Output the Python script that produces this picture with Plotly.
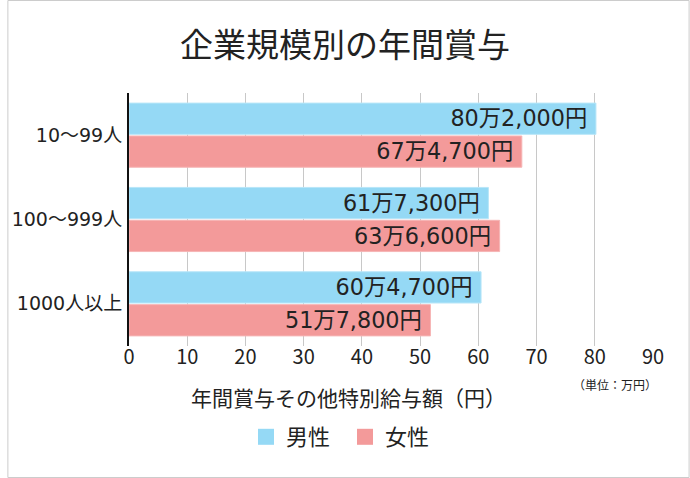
import plotly.graph_objects as go

categories = ["10〜99人", "100〜999人", "1000人以上"]
male_values = [80.2, 61.73, 60.47]
female_values = [67.47, 63.66, 51.78]
male_labels = ["80万2,000円", "61万7,300円", "60万4,700円"]
female_labels = ["67万4,700円", "63万6,600円", "51万7,800円"]
series_names = ["男性", "女性"]
x_ticks = [0, 10, 20, 30, 40, 50, 60, 70, 80, 90]

FONT = "Noto Sans CJK JP"
WIDE = "DejaVu Sans, Noto Sans CJK JP"
MALE_C, FEMALE_C = "#95d9f5", "#f39a9a"
W, H = 690, 478
L, R, T, B = 123, 37, 93, 132

fig = go.Figure()
fig.add_trace(go.Bar(
    y=categories, x=male_values, orientation="h", name=series_names[0],
    marker=dict(color=MALE_C, line=dict(color="#b8e6f8", width=1)),
    text=male_labels, texttemplate="%{text}\u2005",
    textposition="inside", insidetextanchor="end",
    textfont=dict(family=WIDE, size=23, color="#222222"),
    hoverinfo="skip", showlegend=False,
))
fig.add_trace(go.Bar(
    y=categories, x=female_values, orientation="h", name=series_names[1],
    marker=dict(color=FEMALE_C, line=dict(color="#f6b5b5", width=1)),
    text=female_labels, texttemplate="%{text}\u2005",
    textposition="inside", insidetextanchor="end",
    textfont=dict(family=WIDE, size=23, color="#222222"),
    hoverinfo="skip", showlegend=False,
))
# legend entries (square markers)
for nm, col in zip(series_names, [MALE_C, FEMALE_C]):
    fig.add_trace(go.Scatter(
        x=[None], y=[None], mode="markers", name=nm,
        marker=dict(symbol="square", size=20, color=col),
        showlegend=True, hoverinfo="skip",
    ))

pw = W - L - R
ph = H - T - B

fig.update_layout(
    width=W, height=H,
    margin=dict(l=L, r=R, t=T, b=B),
    paper_bgcolor="white", plot_bgcolor="white",
    barmode="group", bargap=0.22, bargroupgap=0.05,
    font=dict(family=FONT, color="#222222"),
    title=dict(text="企業規模別の年間賞与", x=0.5, xref="container", xanchor="center",
               y=1 - 45 / H, yref="container", yanchor="middle",
               font=dict(family=FONT, size=33, color="#222222")),
    showlegend=True,
    legend=dict(orientation="h", xref="container", yref="container",
                x=246 / W, xanchor="left", y=1 - 437 / H, yanchor="middle",
                font=dict(family=FONT, size=22, color="#222222"),
                itemwidth=30, entrywidth=54, traceorder="normal"),
    uniformtext=dict(minsize=10, mode="show"),
)
fig.update_xaxes(
    range=[0, 90], tickvals=x_ticks, ticktext=[str(v) for v in x_ticks],
    showgrid=True, gridcolor="#c8c8c8", gridwidth=1,
    ticks="", showline=False, zeroline=False,
    tickfont=dict(family=FONT, size=20, color="#222222"),
    ticklabelstandoff=-3,
    fixedrange=True,
)
fig.update_yaxes(
    autorange="reversed", showline=True, linecolor="#111111", linewidth=2,
    ticks="", showgrid=False,
    tickfont=dict(family=WIDE, size=19, color="#222222"),
    ticklabelstandoff=1,
)

fig.add_annotation(text="年間賞与その他特別給与額（円）", xref="paper", yref="paper",
                   x=(W / 2 - L) / pw, y=1 - (397 - T) / ph, xanchor="center", yanchor="middle",
                   showarrow=False, font=dict(family=FONT, size=21, color="#222222"))
fig.add_annotation(text="（単位：万円）", xref="paper", yref="paper",
                   x=(615 - L) / pw, y=1 - (384 - T) / ph, xanchor="center", yanchor="middle",
                   showarrow=False, font=dict(family=FONT, size=12, color="#222222"))

# outer border
fig.add_shape(type="rect", xref="paper", yref="paper",
              x0=(0.5 - L) / pw, x1=(W - 0.5 - L) / pw,
              y0=1 - (H - 0.5 - T) / ph, y1=1 - (0.5 - T) / ph,
              line=dict(color="#cccccc", width=1), layer="below")

fig.write_html("out.html", config={"displayModeBar": False},
               post_script="document.body.style.margin='0';")
